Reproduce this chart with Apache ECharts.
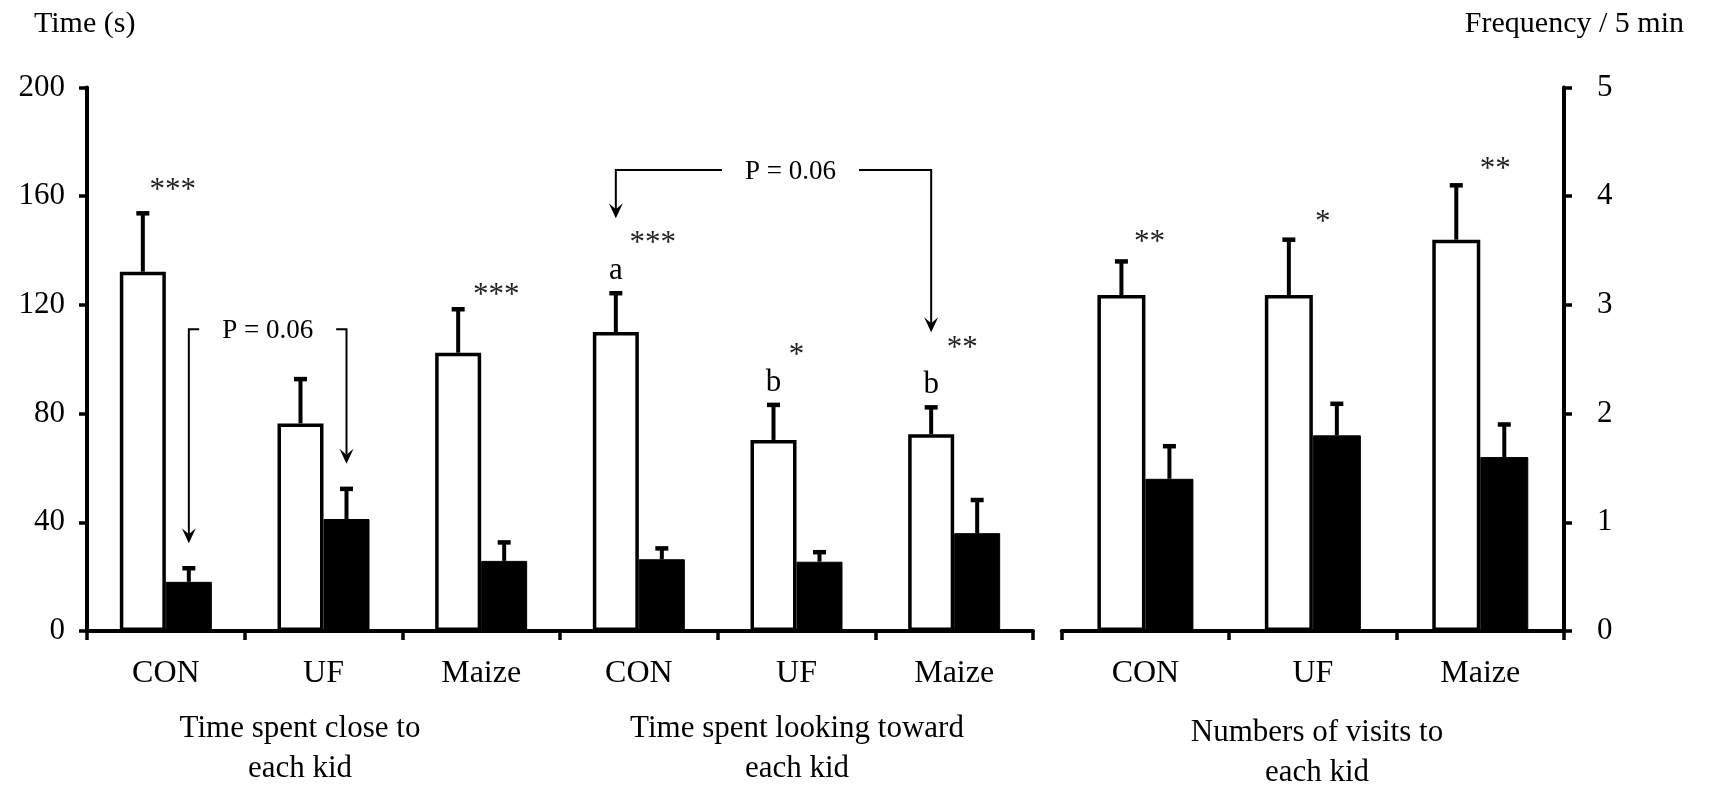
<!DOCTYPE html>
<html><head><meta charset="utf-8">
<script src="https://cdn.jsdelivr.net/npm/echarts@6/dist/echarts.min.js"></script>
<style>html,body{margin:0;padding:0;background:#fff}#c{width:1711px;height:788px}</style>
</head><body><div id="c"></div>
<script>
// ---------------- DATA ----------------
const categories = ['CON', 'UF', 'Maize'];
const closeWhite = [132.2, 76.4, 102.4];
const closeWhiteErr = [21.5, 16.3, 16.0];
const closeBlack = [18.1, 41.2, 25.8];
const closeBlackErr = [5.0, 11.1, 6.8];
const lookWhite = [110.0, 70.3, 72.4];
const lookWhiteErr = [14.3, 12.9, 9.9];
const lookBlack = [26.4, 25.5, 36.0];
const lookBlackErr = [4.0, 3.5, 12.2];
const visitsWhite = [3.09, 3.09, 3.60];
const visitsWhiteErr = [0.31, 0.51, 0.50];
const visitsBlack = [1.40, 1.80, 1.60];
const visitsBlackErr = [0.30, 0.29, 0.30];
const closeSig = ['***', '', '***'];
const lookSig = ['***', '*', '**'];
const lookLetters = ['a', 'b', 'b'];
const visitsSig = ['**', '*', '**'];
const timeTicks = [0, 40, 80, 120, 160, 200];
const freqTicks = [0, 1, 2, 3, 4, 5];
const groupTitles = ['Time spent close to\neach kid', 'Time spent looking toward\neach kid', 'Numbers of visits to\neach kid'];
const leftAxisName = 'Time (s)';
const rightAxisName = 'Frequency / 5 min';
const pLabel = 'P = 0.06';
// brackets: category index (in left panel) and which bar of the pair, level in seconds
const brackets = [
  { from: [0, 'black'], to: [1, 'black'], level: 111 },
  { from: [3, 'white'], to: [5, 'white'], level: 169.6 }
];

// ---------------- BUILD ----------------
const FONT = '"Liberation Serif", "Times New Roman", serif';
const leftCats = categories.concat(categories);
const leftWhite = closeWhite.concat(lookWhite);
const leftWhiteErr = closeWhiteErr.concat(lookWhiteErr);
const leftBlack = closeBlack.concat(lookBlack);
const leftBlackErr = closeBlackErr.concat(lookBlackErr);
const leftSig = closeSig.concat(lookSig);
const leftLetters = ['', '', ''].concat(lookLetters);

const BW0 = 46, BW1 = 48;
// annotation layout (px offsets from category centre / white error-cap)
const leftStarOff = [[7, 26], [0, 0], [15, 17], [14, 53], [0, 53], [8, 62]];
const rightStarOff = [[4, 23], [10, 21], [15, 19]];
const bracketTipGap = [25, 75];
const bracketTextDx = [0, 17];

const measureCtx = document.createElement('canvas').getContext('2d');
function textW(t, size) { measureCtx.font = size + 'px ' + FONT; return measureCtx.measureText(t).width; }

function txt(t, x, y, size, fill, align) {
  return { type: 'text', style: { text: t, x: x, y: y, fill: fill || '#000', font: size + 'px ' + FONT,
    textAlign: align || 'center', align: align || 'center', textVerticalAlign: 'middle', verticalAlign: 'middle' } };
}

function errRender(wv, we, bv, be, bw, sig, letters, starOff) {
  return function (params, api) {
    const i = api.value(0);
    const ch = [];
    let whiteCap = null, center = api.coord([i, 0])[0];
    [[wv, we, -1], [bv, be, 1]].forEach(function (d) {
      const base = api.coord([i, d[0][i]]);
      const top = api.coord([i, d[0][i] + d[1][i]]);
      const x = center + d[2] * bw / 2;
      if (d[2] < 0) whiteCap = top[1];
      ch.push({ type: 'line', shape: { x1: x, y1: base[1], x2: x, y2: top[1] }, style: { stroke: '#000', lineWidth: 4 } });
      ch.push({ type: 'line', shape: { x1: x - 6.5, y1: top[1], x2: x + 6.5, y2: top[1] }, style: { stroke: '#000', lineWidth: 4.5 } });
    });
    if (sig[i]) {
      const o = starOff[i];
      ch.push(txt(sig[i], center + o[0], whiteCap - o[1] + 4, 31, '#222'));
    }
    if (letters && letters[i]) {
      ch.push(txt(letters[i], center - bw / 2, whiteCap - 22, 31, '#000'));
    }
    return { type: 'group', children: ch };
  };
}

function bracketRender(params, api) {
  const k = params.dataIndex;
  const b = brackets[k];
  function xy(ref) {
    const i = ref[0];
    const c = api.coord([i, 0])[0];
    const isW = ref[1] === 'white';
    const v = isW ? leftWhite[i] + leftWhiteErr[i] : leftBlack[i] + leftBlackErr[i];
    return [c + (isW ? -1 : 1) * BW0 / 2, api.coord([i, v])[1]];
  }
  const a = xy(b.from), c = xy(b.to);
  const ly = api.coord([0, b.level])[1];
  const gap = bracketTipGap[k];
  const mid = (a[0] + c[0]) / 2 + bracketTextDx[k];
  const w = textW(pLabel, 27);
  const pad = 23;
  const st = { stroke: '#000', lineWidth: 2, fill: null };
  const ch = [];
  [[a, mid - w / 2 - pad], [c, mid + w / 2 + pad]].forEach(function (d) {
    const p = d[0];
    const tip = p[1] - gap;
    ch.push({ type: 'polyline', shape: { points: [[d[1], ly], [p[0], ly], [p[0], tip - 9]] }, style: st });
    ch.push({ type: 'polygon', shape: { points: [[p[0], tip], [p[0] - 7, tip - 15], [p[0], tip - 9], [p[0] + 7, tip - 15]] }, style: { fill: '#000' } });
  });
  ch.push(txt(pLabel, mid, ly + 2, 27, '#000'));
  return { type: 'group', children: ch };
}

const axisLineStyle = { show: true, lineStyle: { color: '#000', width: 4 } };
const tickStyle = { show: true, length: 8, lineStyle: { color: '#000', width: 3.5 } };

function titleText(t, x, y) {
  return { type: 'text', style: { text: t, x: x, y: y, font: '31px ' + FONT, lineHeight: 40, fill: '#000',
    textAlign: 'center', align: 'center', textVerticalAlign: 'top', verticalAlign: 'top' } };
}

const option = {
  animation: false,
  backgroundColor: '#fff',
  grid: [
    { left: 87, top: 87.5, width: 946, height: 543.5 },
    { left: 1061.7, top: 87.5, width: 502.3, height: 543.5 }
  ],
  xAxis: [
    { type: 'category', gridIndex: 0, data: leftCats, axisLine: axisLineStyle, axisTick: Object.assign({}, tickStyle, { length: 9 }),
      axisLabel: { fontFamily: FONT, fontSize: 32, color: '#000', margin: 27 }, splitLine: { show: false } },
    { type: 'category', gridIndex: 1, data: categories, axisLine: axisLineStyle, axisTick: Object.assign({}, tickStyle, { length: 9 }),
      axisLabel: { fontFamily: FONT, fontSize: 32, color: '#000', margin: 27 }, splitLine: { show: false } }
  ],
  yAxis: [
    { type: 'value', gridIndex: 0, min: timeTicks[0], max: timeTicks[timeTicks.length - 1], interval: timeTicks[1] - timeTicks[0],
      axisLine: axisLineStyle, axisTick: tickStyle, splitLine: { show: false },
      axisLabel: { fontFamily: FONT, fontSize: 31, color: '#000', margin: 22 } },
    { type: 'value', gridIndex: 1, position: 'right', min: freqTicks[0], max: freqTicks[freqTicks.length - 1], interval: freqTicks[1] - freqTicks[0],
      axisLine: axisLineStyle, axisTick: tickStyle, splitLine: { show: false },
      axisLabel: { fontFamily: FONT, fontSize: 31, color: '#000', margin: 33 } }
  ],
  graphic: [
    { type: 'text', style: { text: leftAxisName, x: 34, y: 24, font: '30px ' + FONT, fill: '#000', textAlign: 'left', align: 'left', textVerticalAlign: 'middle', verticalAlign: 'middle' } },
    { type: 'text', style: { text: rightAxisName, x: 1684, y: 24, font: '30px ' + FONT, fill: '#000', textAlign: 'right', align: 'right', textVerticalAlign: 'middle', verticalAlign: 'middle' } },
    titleText(groupTitles[0], 300, 709),
    titleText(groupTitles[1], 797, 709),
    titleText(groupTitles[2], 1317, 713)
  ],
  series: [
    { type: 'bar', xAxisIndex: 0, yAxisIndex: 0, data: leftWhite, barWidth: BW0, barGap: '0%',
      itemStyle: { color: '#fff', borderColor: '#000', borderWidth: 3.5 } },
    { type: 'bar', xAxisIndex: 0, yAxisIndex: 0, data: leftBlack, barWidth: BW0, barGap: '0%',
      itemStyle: { color: '#000', borderColor: '#000', borderWidth: 1 } },
    { type: 'bar', xAxisIndex: 1, yAxisIndex: 1, data: visitsWhite, barWidth: BW1, barGap: '0%',
      itemStyle: { color: '#fff', borderColor: '#000', borderWidth: 3.5 } },
    { type: 'bar', xAxisIndex: 1, yAxisIndex: 1, data: visitsBlack, barWidth: BW1, barGap: '0%',
      itemStyle: { color: '#000', borderColor: '#000', borderWidth: 1 } },
    { type: 'custom', xAxisIndex: 0, yAxisIndex: 0, z: 5, encode: { x: 0, y: 1 },
      data: leftWhite.map(function (v, i) { return [i, v]; }),
      renderItem: errRender(leftWhite, leftWhiteErr, leftBlack, leftBlackErr, BW0, leftSig, leftLetters, leftStarOff) },
    { type: 'custom', xAxisIndex: 1, yAxisIndex: 1, z: 5, encode: { x: 0, y: 1 },
      data: visitsWhite.map(function (v, i) { return [i, v]; }),
      renderItem: errRender(visitsWhite, visitsWhiteErr, visitsBlack, visitsBlackErr, BW1, visitsSig, null, rightStarOff) },
    { type: 'custom', xAxisIndex: 0, yAxisIndex: 0, z: 6, encode: { x: 0, y: 1 },
      data: brackets.map(function (b) { return [b.from[0], b.level]; }),
      renderItem: bracketRender }
  ]
};
const chart = echarts.init(document.getElementById('c'), null, { renderer: 'canvas' });
chart.setOption(option);
</script></body></html>
